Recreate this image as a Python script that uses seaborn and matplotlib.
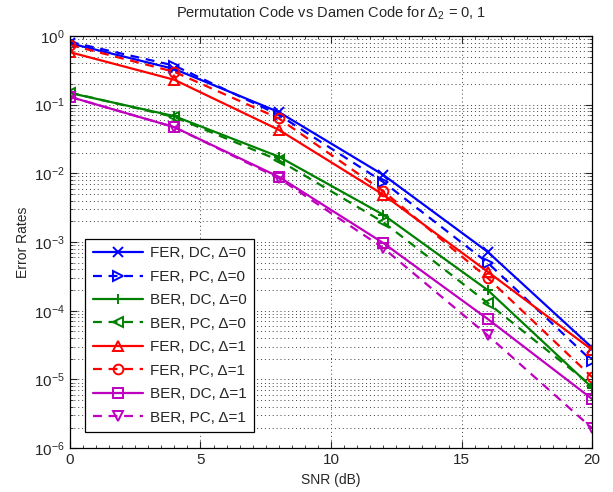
import numpy as np
import pandas as pd
import matplotlib
matplotlib.use('Agg')
import matplotlib.pyplot as plt
import seaborn as sns
from matplotlib.ticker import FixedLocator, NullFormatter, LogFormatterSciNotation

# SNR points
snr = [0, 4, 8, 12, 16, 20]

# error rates
fer_dc_0 = [0.78, 0.33, 0.078, 0.0095, 0.00072, 2.9e-5]
fer_pc_0 = [0.82, 0.37, 0.071, 0.0075, 0.00050, 1.85e-5]
ber_dc_0 = [0.148, 0.068, 0.0175, 0.0025, 0.00020, 7.6e-6]
ber_pc_0 = [0.15, 0.066, 0.0155, 0.00195, 0.00013, 8.0e-6]
fer_dc_1 = [0.58, 0.23, 0.043, 0.0049, 0.00037, 2.7e-5]
fer_pc_1 = [0.74, 0.30, 0.063, 0.0055, 0.00030, 1.08e-5]
ber_dc_1 = [0.13, 0.047, 0.0089, 0.00097, 7.6e-5, 5.2e-6]
ber_pc_1 = [0.13, 0.047, 0.0085, 0.00082, 4.4e-5, 1.95e-6]

labels = ['FER, DC, Δ=0', 'FER, PC, Δ=0', 'BER, DC, Δ=0', 'BER, PC, Δ=0',
          'FER, DC, Δ=1', 'FER, PC, Δ=1', 'BER, DC, Δ=1', 'BER, PC, Δ=1']
series = [fer_dc_0, fer_pc_0, ber_dc_0, ber_pc_0, fer_dc_1, fer_pc_1, ber_dc_1, ber_pc_1]
colors = ['#0000ff', '#0000ff', '#008000', '#008000',
          '#ff0000', '#ff0000', '#bf00bf', '#bf00bf']
markers = ['x', '>', '+', '<', '^', 'o', 's', 'v']
styles = ['-', (0, (4, 3)), '-', (0, (4, 3)), '-', (0, (4, 3)), '-', (0, (4, 3))]

x_ticks = [0, 5, 10, 15, 20]
y_ticks = [1e-6, 1e-5, 1e-4, 1e-3, 1e-2, 1e-1, 1]

sns.set_style('ticks')
plt.rcParams['font.family'] = ['Liberation Sans', 'DejaVu Sans']
plt.rcParams['mathtext.fontset'] = 'custom'
plt.rcParams['mathtext.rm'] = 'Liberation Sans'
plt.rcParams['mathtext.it'] = 'Liberation Sans:italic'

fig = plt.figure(figsize=(6.13, 4.92), dpi=100)
ax = fig.add_axes([0.114, 0.089, 0.852, 0.838])

for vals, lab, c, m, ls in zip(series, labels, colors, markers, styles):
    df = pd.DataFrame({'SNR': snr, 'err': vals})
    sns.lineplot(data=df, x='SNR', y='err', ax=ax, color=c, marker=m,
                 linestyle=ls, linewidth=1.6, markersize=7,
                 markerfacecolor='none', markeredgecolor=c,
                 markeredgewidth=1.4, label=lab)

ax.set_yscale('log')
ax.set_xlim(0, 20)
ax.set_ylim(1e-6, 1)
ax.xaxis.set_major_locator(FixedLocator(x_ticks))
ax.xaxis.set_minor_locator(FixedLocator(np.arange(0.5, 20, 0.5)))
ax.xaxis.set_minor_formatter(NullFormatter())
minor_y = [m * 10.0 ** e for e in range(-6, 0) for m in range(2, 10)]
ax.yaxis.set_major_locator(FixedLocator(y_ticks))
ax.yaxis.set_major_formatter(LogFormatterSciNotation())
ax.yaxis.set_minor_locator(FixedLocator(minor_y))
ax.yaxis.set_minor_formatter(NullFormatter())

ax.grid(which='major', axis='both', linestyle=(0, (1, 3)), color='0.25', linewidth=0.7)
ax.grid(which='minor', axis='y', linestyle=(0, (1, 3)), color='0.25', linewidth=0.7)
ax.tick_params(which='both', direction='in', top=True, right=True, labelsize=11)
ax.tick_params(which='major', length=5)
ax.tick_params(which='minor', length=2.5)
for sp in ax.spines.values():
    sp.set_color('black')
    sp.set_linewidth(0.9)

ax.set_xlabel('SNR (dB)', fontsize=10, labelpad=4)
ax.set_ylabel('Error Rates', fontsize=10, labelpad=3)
ax.set_title(r'Permutation Code vs Damen Code for $\Delta_2$ = 0, 1', fontsize=10.5, pad=13)

leg = ax.legend(loc='lower left', bbox_to_anchor=(0.015, 0.02), fontsize=11,
                frameon=True, fancybox=False, edgecolor='black', framealpha=1,
                handlelength=3.3, labelspacing=0.62, borderpad=0.5, handletextpad=0.4)
leg.get_frame().set_linewidth(0.9)

fig.savefig('out.png', dpi=100)
